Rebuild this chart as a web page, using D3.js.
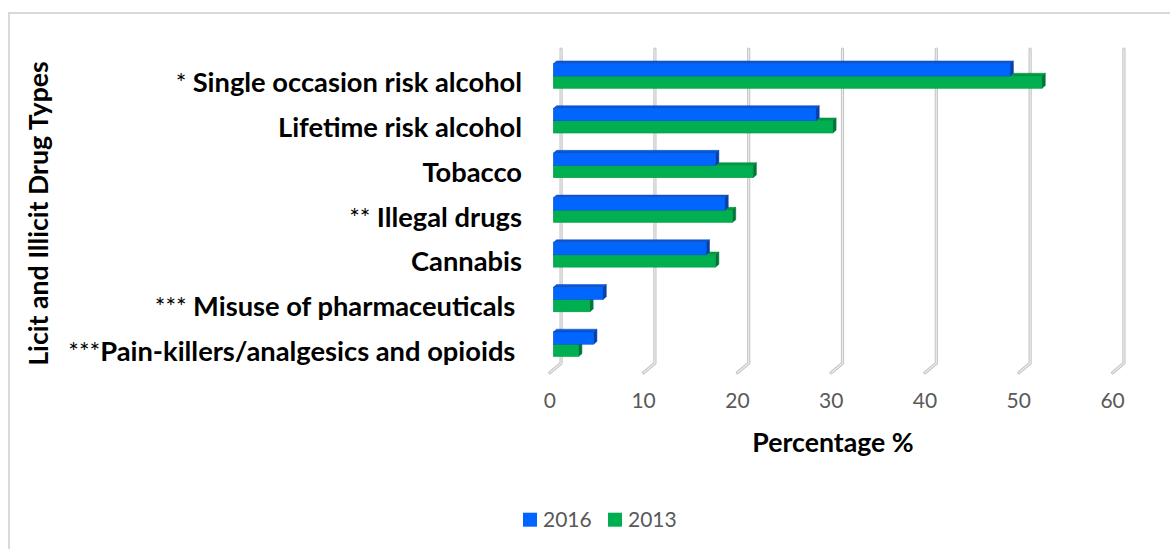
<!DOCTYPE html>
<html>
<head>
<meta charset="utf-8">
<script src="https://cdn.jsdelivr.net/npm/d3@7/dist/d3.min.js"></script>
<style>
  html, body { margin: 0; padding: 0; background: #fff; }
  svg { display: block; }
  text { white-space: pre; }
</style>
</head>
<body>
<svg id="chart" width="1170" height="549"></svg>
<script>
// ---- data ----
const categories = [
  "Single occasion risk alcohol",
  "Lifetime risk alcohol",
  "Tobacco",
  "Illegal drugs",
  "Cannabis",
  "Misuse of pharmaceuticals ",
  "Pain-killers/analgesics and opioids "
];
const prefixes = ["* ", "", "", "** ", "", "*** ", "***"];
const seriesNames = ["2016", "2013"];
const values2016 = [48.7, 28.0, 17.3, 18.3, 16.3, 5.3, 4.3];
const values2013 = [52.1, 29.8, 21.3, 19.1, 17.3, 3.9, 2.7];
const tickValues = [0, 10, 20, 30, 40, 50, 60];
const xTitle = "Percentage %";
const yTitle = "Licit and Illicit Drug Types";

const colors = {
  "2016": { front: "#0066ff", top: "#0a56d6", side: "#0840a8", edge: "#0550cc" },
  "2013": { front: "#00b050", top: "#009944", side: "#00763a", edge: "#00933f" }
};

const svg = d3.select("#chart");
const FONT = "Lato, 'Open Sans', sans-serif";

// border
svg.append("path")
  .attr("d", "M9,549 L9,13 L1170,13")
  .attr("fill", "none").attr("stroke", "#d9d9d9").attr("stroke-width", 2);

// scales
const x = d3.scaleLinear().domain([0, 60]).range([549.8, 1112.6]); // front plane
const floorDepth = { dx: 11.3, dy: -9.5 };
const barOffset = { dx: 3.5, dy: -2.9 };   // bar front plane relative to floor front
const barDepth = { dx: 3.3, dy: -2.8 };

const y = d3.scaleBand().domain(categories).range([56.6, 369.5])
  .paddingInner(0.45).paddingOuter(0.225);
const ySub = d3.scaleBand().domain(seriesNames).range([0, y.bandwidth()]);

const frontFloorY = 372.7;
const gridTop = 49;

// gridlines (back wall + floor foot)
const grid = svg.append("g");
tickValues.forEach(v => {
  const xf = x(v), xb = x(v) + floorDepth.dx;
  const yb = frontFloorY + floorDepth.dy;
  const d = `M${xb},${gridTop} L${xb},${yb} L${xf},${frontFloorY}`;
  grid.append("path").attr("d", d).attr("fill", "none")
    .attr("stroke", "#c4c4c4").attr("stroke-width", 3.2)
    .attr("stroke-linejoin", "round").attr("stroke-linecap", "round");
  grid.append("path").attr("d", d).attr("fill", "none")
    .attr("stroke", "#ececec").attr("stroke-width", 1.2)
    .attr("stroke-linejoin", "round").attr("stroke-linecap", "round");
});

// tick labels
svg.append("g").selectAll("text").data(tickValues).join("text")
  .attr("x", d => x(d)).attr("y", 408)
  .attr("text-anchor", "middle")
  .attr("font-family", FONT).attr("font-size", 21)
  .attr("fill", "#595959")
  .text(d => d);

// bars
const rows = categories.map((c, i) => ({
  cat: c,
  vals: [
    { s: "2016", v: values2016[i] },
    { s: "2013", v: values2013[i] }
  ]
}));

const barsG = svg.append("g");
rows.forEach(r => {
  // draw lower series first so the upper one overlaps its top face
  [...r.vals].reverse().forEach(d => {
    const c = colors[d.s];
    const x0 = x(0) + barOffset.dx, x1 = x(d.v) + barOffset.dx;
    const y0 = y(r.cat) + ySub(d.s) + barOffset.dy;
    const y1 = y0 + ySub.bandwidth();
    const ddx = barDepth.dx, ddy = barDepth.dy;
    const g = barsG.append("g");
    g.append("path")
      .attr("d", `M${x0},${y0} L${x0 + ddx},${y0 + ddy} L${x1 + ddx},${y0 + ddy} L${x1},${y0} Z`)
      .attr("fill", c.top).attr("stroke", c.edge).attr("stroke-width", 0.5);
    g.append("path")
      .attr("d", `M${x1},${y0} L${x1 + ddx},${y0 + ddy} L${x1 + ddx},${y1 + ddy} L${x1},${y1} Z`)
      .attr("fill", c.side).attr("stroke", c.side).attr("stroke-width", 0.5);
    g.append("rect")
      .attr("x", x0).attr("y", y0)
      .attr("width", Math.max(0, x1 - x0)).attr("height", y1 - y0)
      .attr("fill", c.front).attr("stroke", c.edge).attr("stroke-width", 0.5);
  });
});

// category labels
const labels = svg.append("g").selectAll("text").data(categories).join("text")
  .attr("x", 522)
  .attr("y", d => y(d) + y.bandwidth() / 2 + 13.5)
  .attr("text-anchor", "end")
  .attr("font-family", FONT)
  .attr("fill", "#000");
labels.append("tspan")
  .attr("font-size", 25).attr("font-weight", "normal")
  .text((d, i) => prefixes[i]);
labels.append("tspan")
  .attr("font-size", 27.3).attr("font-weight", "bold")
  .text(d => d);

// axis titles
svg.append("text")
  .attr("x", 833).attr("y", 452)
  .attr("text-anchor", "middle")
  .attr("font-family", FONT).attr("font-size", 26.7).attr("font-weight", "bold")
  .attr("fill", "#000")
  .text(xTitle);

svg.append("text")
  .attr("transform", "translate(48,213.5) rotate(-90)")
  .attr("text-anchor", "middle")
  .attr("font-family", FONT).attr("font-size", 26.7).attr("font-weight", "bold")
  .attr("fill", "#000")
  .text(yTitle);

// legend
const legendItems = [
  { s: "2016", x: 523 },
  { s: "2013", x: 608 }
];
const lg = svg.append("g").selectAll("g").data(legendItems).join("g")
  .attr("transform", d => `translate(${d.x},512.7)`);
lg.append("rect").attr("width", 14).attr("height", 14)
  .attr("fill", d => colors[d.s].front);
lg.append("text").attr("x", 20).attr("y", 14)
  .attr("font-family", FONT).attr("font-size", 21).attr("fill", "#595959")
  .text(d => d.s);
</script>
</body>
</html>
